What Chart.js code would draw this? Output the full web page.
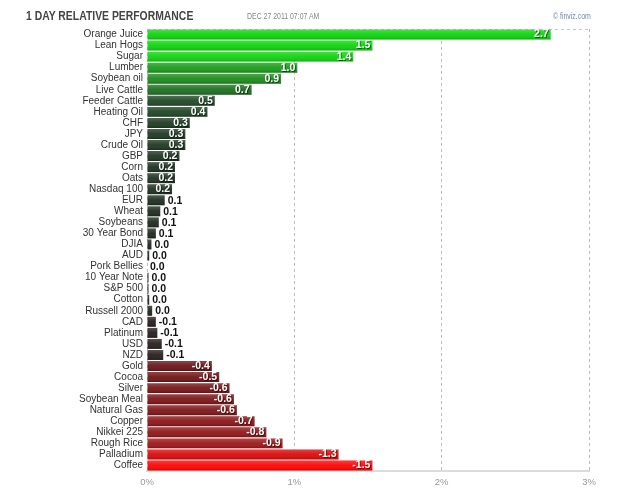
<!DOCTYPE html>
<html>
<head>
<meta charset="utf-8">
<script src="https://cdn.jsdelivr.net/npm/chart.js@4/dist/chart.umd.min.js"></script>
<style>
  body { margin: 0; background: #fff; font-family: Arial, "Liberation Sans", sans-serif; }
  #wrap { position: relative; width: 625px; height: 493px; }
  .hd { position: absolute; transform-origin: 0 50%; transform: scaleX(0.77); white-space: nowrap; }
  #title { left: 26px; top: 8px; font-size: 13.5px; font-weight: bold; color: #444; }
  #stamp { left: 247px; top: 11px; font-size: 9px; color: #888; }
  #source { left: 553px; top: 11px; font-size: 9px; color: #6a8cb0; }
  #chart { position: absolute; left: 0; top: 0; }
</style>
</head>
<body>
<div id="wrap">
  <canvas id="chart" width="625" height="493"></canvas>
  <div id="title" class="hd">1 DAY RELATIVE PERFORMANCE</div>
  <div id="stamp" class="hd">DEC 27 2011 07:07 AM</div>
  <div id="source" class="hd">© finviz.com</div>
</div>
<script>
const FONT = 'Arial, "Liberation Sans", sans-serif';
// categories top to bottom
const names = ['Orange Juice', 'Lean Hogs', 'Sugar', 'Lumber', 'Soybean oil', 'Live Cattle',
    'Feeder Cattle', 'Heating Oil', 'CHF', 'JPY', 'Crude Oil', 'GBP', 'Corn', 'Oats',
    'Nasdaq 100', 'EUR', 'Wheat', 'Soybeans', '30 Year Bond', 'DJIA', 'AUD', 'Pork Bellies',
    '10 Year Note', 'S&P 500', 'Cotton', 'Russell 2000', 'CAD', 'Platinum', 'USD', 'NZD',
    'Gold', 'Cocoa', 'Silver', 'Soybean Meal', 'Natural Gas', 'Copper', 'Nikkei 225',
    'Rough Rice', 'Palladium', 'Coffee'];
// 1 day change, percent
const change = [2.74, 1.53, 1.40, 1.02, 0.91, 0.71,
    0.46, 0.41, 0.29, 0.26, 0.26, 0.22, 0.19, 0.19,
    0.17, 0.12, 0.09, 0.08, 0.06, 0.03, 0.015, 0.0,
    0.01, 0.01, 0.015, 0.035, -0.06, -0.07, -0.10, -0.11,
    -0.44, -0.49, -0.56, -0.59, -0.61, -0.73, -0.81,
    -0.92, -1.30, -1.53];
const xTicks = [0, 1, 2, 3];

// colour ramps: [abs change, rgb]
const greenRamp = [[0, [30, 34, 30]], [0.45, [30, 72, 36]], [1.0, [28, 152, 28]], [1.4, [14, 212, 14]]];
const redRamp = [[0, [34, 28, 28]], [0.15, [44, 30, 30]], [0.45, [108, 20, 22]], [0.95, [160, 22, 24]], [1.5, [255, 4, 4]]];

function ramp(stops, v) {
    if (v <= stops[0][0]) return stops[0][1];
    for (let i = 1; i < stops.length; i++) {
        const [v1, c1] = stops[i];
        const [v0, c0] = stops[i - 1];
        if (v <= v1) {
            const t = (v - v0) / (v1 - v0);
            return c0.map((c, k) => Math.round(c + (c1[k] - c) * t));
        }
    }
    return stops[stops.length - 1][1];
}
function barColor(v) {
    const c = v >= 0 ? ramp(greenRamp, v) : ramp(redRamp, -v);
    return 'rgb(' + c.join(',') + ')';
}

// gloss on each bar + value labels
const barDecor = {
    id: 'barDecor',
    beforeDatasetsDraw(chart) {
        const { ctx, chartArea } = chart;
        ctx.save();
        ctx.strokeStyle = '#c8c8c8';
        ctx.setLineDash([3, 3]);
        ctx.lineWidth = 1;
        ctx.beginPath();
        ctx.moveTo(chartArea.left, chartArea.top + 0.5);
        ctx.lineTo(chartArea.right, chartArea.top + 0.5);
        ctx.stroke();
        ctx.restore();
    },
    afterDatasetsDraw(chart) {
        const { ctx } = chart;
        const meta = chart.getDatasetMeta(0);
        ctx.save();
        ctx.font = 'bold 10.5px ' + FONT;
        ctx.textBaseline = 'middle';
        meta.data.forEach((bar, i) => {
            const h = bar.height;
            const w = bar.x - bar.base;
            if (w > 1) {
                const g = ctx.createLinearGradient(0, bar.y - h / 2, 0, bar.y + h / 2);
                g.addColorStop(0, 'rgba(255,255,255,0.22)');
                g.addColorStop(0.5, 'rgba(255,255,255,0.05)');
                g.addColorStop(1, 'rgba(0,0,0,0.18)');
                ctx.fillStyle = g;
                ctx.fillRect(bar.base, bar.y - h / 2, w, h);
            }
            const txt = change[i].toFixed(1);
            const tw = ctx.measureText(txt).width;
            if (w > tw + 4) {
                ctx.textAlign = 'right';
                ctx.fillStyle = 'rgba(0,0,0,0.5)';
                ctx.fillText(txt, bar.x - 2 + 1, bar.y + 1);
                ctx.fillStyle = '#fff';
                ctx.fillText(txt, bar.x - 2, bar.y);
            } else {
                ctx.textAlign = 'left';
                ctx.fillStyle = '#111';
                ctx.fillText(txt, bar.x + 3, bar.y + 0.5);
            }
        });
        ctx.restore();
    }
};

new Chart(document.getElementById('chart'), {
    type: 'bar',
    data: {
        labels: names,
        datasets: [{
            data: change.map(v => Math.abs(v)),
            backgroundColor: change.map(barColor),
            borderWidth: 0,
            barPercentage: 0.9,
            categoryPercentage: 1
        }]
    },
    options: {
        indexAxis: 'y',
        responsive: false,
        animation: false,
        layout: { padding: { left: 0, right: 36, top: 29, bottom: 0 } },
        plugins: { legend: { display: false }, tooltip: { enabled: false } },
        scales: {
            x: {
                min: 0,
                max: 3,
                afterBuildTicks: s => { s.ticks = xTicks.map(v => ({ value: v })); },
                afterFit: s => { s.height = 22; },
                grid: { color: '#bdbdbd', drawTicks: false },
                border: { color: '#dcdcdc', width: 2, dash: [3, 3] },
                ticks: {
                    color: '#999',
                    padding: 6,
                    font: { family: FONT, size: 9.5 },
                    callback: v => v + '%'
                }
            },
            y: {
                afterFit: s => { s.width = 147; },
                grid: { display: false, drawTicks: false },
                border: { display: false },
                ticks: {
                    color: '#333',
                    padding: 4,
                    autoSkip: false,
                    font: { family: FONT, size: 10 }
                }
            }
        }
    },
    plugins: [barDecor]
});
</script>
</body>
</html>
